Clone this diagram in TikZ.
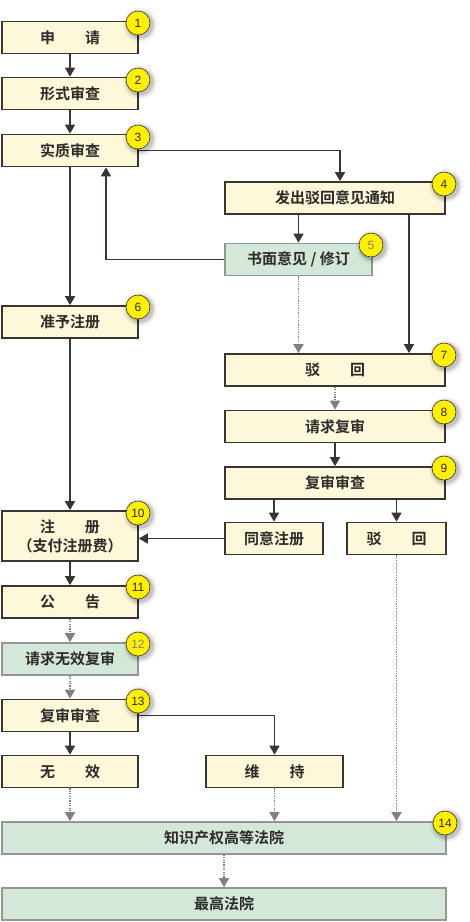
\documentclass[tikz,border=0pt]{standalone}
\usepackage{fontspec}
\setsansfont{Liberation Sans}
\newfontfamily\cjk{Noto Sans CJK SC}[BoldFont={Noto Sans CJK SC Bold}]
\usetikzlibrary{arrows.meta,calc}
\definecolor{cream}{HTML}{FDF8DA}
\definecolor{greenf}{HTML}{D4E8DA}
\definecolor{boxline}{HTML}{3A3432}
\definecolor{gline}{HTML}{959595}
\definecolor{txt}{HTML}{2E2A28}
\definecolor{arrc}{HTML}{3A3432}
\definecolor{dotc}{HTML}{808080}
\definecolor{yel}{HTML}{FFF000}
\tikzset{
  box/.style={draw=boxline, line width=1.7pt, fill=cream, text=txt,
    font=\cjk\bfseries\fontsize{15}{19}\selectfont, minimum height=32pt,
    inner sep=0pt, align=center},
  gbox/.style={box, draw=gline, fill=greenf},
  arr/.style={draw=arrc, line width=1.6pt, -{Triangle[width=10pt,length=9pt]}},
  darr/.style={draw=dotc, line width=1.5pt, dash pattern=on 1.2pt off 1.2pt,
    -{Triangle[width=10pt,length=9pt]}},
  badge/.style={circle, draw=boxline, line width=0.6pt, fill=yel,
    minimum size=24pt, inner sep=0pt, font=\sffamily\fontsize{12}{12}\selectfont}
}
\newcommand\mybadge[5]{%
  \foreach \rr/\oo in {17/0.05,15/0.08,13.5/0.12}{\fill[black,opacity=\oo] (#2+2,#3+2) circle (\rr pt);}
  \node[badge,text=#5] (#1) at (#2,#3) {#4};}
\begin{document}
\begin{tikzpicture}[x=1pt,y=-1pt]
\useasboundingbox (0,0) rectangle (470,922);
% left column
\node[box, minimum width=136pt] (n1) at (70,37.5) {申\hspace{2em}请};
\node[box, minimum width=136pt] (n2) at (70,93.5) {形式审查};
\node[box, minimum width=136pt] (n3) at (70,150.5) {实质审查};
\node[box, minimum width=136pt] (n6) at (70,322) {准予注册};
\node[box, minimum width=136pt, minimum height=50pt] (n10) at (70,536) {注\hspace{2em}册\\（支付注册费）};
\node[box, minimum width=136pt] (n11) at (70,602) {公\hspace{2em}告};
\node[gbox, minimum width=136pt] (n12) at (70,659) {请求无效复审};
\node[box, minimum width=136pt] (n13) at (70,715.5) {复审审查};
\node[box, minimum width=136pt] (nC) at (70,771.5) {无\hspace{2em}效};
% right column
\node[box, minimum width=220pt] (n4) at (335,198) {发出驳回意见通知};
\node[gbox, minimum width=147pt] (n5) at (298.5,259.5) {书面意见 / 修订};
\node[box, minimum width=220pt] (n7) at (335,370) {驳\hspace{2em}回};
\node[box, minimum width=220pt] (n8) at (335,426.5) {请求复审};
\node[box, minimum width=220pt] (n9) at (335,483) {复审审查};
\node[box, minimum width=98pt] (nA) at (274,538.5) {同意注册};
\node[box, minimum width=99pt] (nB) at (396.5,538.5) {驳\hspace{2em}回};
\node[box, minimum width=137pt] (nD) at (274.5,771.5) {维\hspace{2em}持};
% bottom
\node[gbox, minimum width=444pt] (n14) at (224,838) {知识产权高等法院};
\node[gbox, minimum width=444pt] (n15) at (224,904) {最高法院};
% connectors
\draw[arr] (n1) -- (n2);
\draw[arr] (n2) -- (n3);
\draw[arr] (n3.east) -| ([xshift=5pt]n4.north);
\draw[arr] (n4.south -| n5.north) -- (n5.north);
\draw[arr] ([xshift=74pt]n4.south) -- ([xshift=74pt]n7.north);
\draw[arr] (n5.west) -| ([xshift=36pt]n3.south);
\draw[darr] (n5.south) -- (n5.south |- n7.north);
\draw[arr] (n3) -- (n6);
\draw[arr] (n6) -- (n10);
\draw[darr] (n7.south) -- (n8.north);
\draw[arr] (n8) -- (n9);
\draw[arr] (n9.south -| nA.north) -- (nA.north);
\draw[arr] (n9.south -| nB.north) -- (nB.north);
\draw[arr] (nA.west) -- (nA.west -| n10.east);
\draw[arr] (n10) -- (n11);
\draw[darr] (n11) -- (n12);
\draw[darr] (n12) -- (n13);
\draw[arr] (n13) -- (nC);
\draw[arr] (n13.east) -| (nD.north);
\draw[darr] (nC.south) -- (nC.south |- n14.north);
\draw[darr] (nD.south) -- (nD.south |- n14.north);
\draw[darr] (nB.south) -- (nB.south |- n14.north);
\draw[darr] (n14) -- (n15);
% badges
\mybadge{b1}{138}{23}{1}{txt}
\mybadge{b2}{138}{80}{2}{txt}
\mybadge{b3}{138}{137}{3}{txt}
\mybadge{b4}{444}{184}{4}{txt}
\mybadge{b5}{371}{245}{5}{dotc}
\mybadge{b6}{138}{307}{6}{txt}
\mybadge{b7}{444}{355}{7}{txt}
\mybadge{b8}{444}{412}{8}{txt}
\mybadge{b9}{444}{468}{9}{txt}
\mybadge{b10}{138}{513}{10}{txt}
\mybadge{b11}{138}{587}{11}{txt}
\mybadge{b12}{138}{644}{12}{dotc}
\mybadge{b13}{138}{701}{13}{txt}
\mybadge{b14}{445}{823}{14}{txt}
\end{tikzpicture}
\end{document}
